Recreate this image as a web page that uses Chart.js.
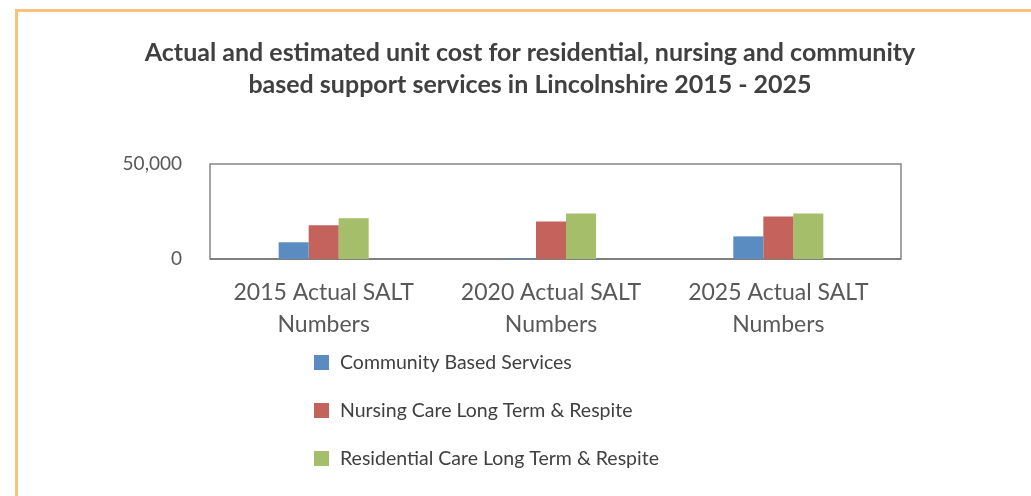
<!DOCTYPE html>
<html>
<head>
<meta charset="utf-8">
<script src="https://cdn.jsdelivr.net/npm/chart.js@4/dist/chart.umd.min.js"></script>
<style>
  html, body { margin: 0; padding: 0; background: #ffffff; overflow: hidden; }
  #frame { position: absolute; left: 15px; top: 9px; width: 1200px; height: 700px; border: 3px solid #F9C27B; box-sizing: border-box; }
  #wrap { position: absolute; left: 0; top: 0; width: 1031px; height: 496px; }
</style>
</head>
<body>
<div id="frame"></div>
<div id="wrap"><canvas id="c" width="1031" height="496"></canvas></div>
<script>
const titleLines = [
  'Actual and estimated unit cost for residential, nursing and community',
  'based support services in Lincolnshire 2015 - 2025'
];
const categories = [
  ['2015 Actual SALT', 'Numbers'],
  ['2020 Actual SALT', 'Numbers'],
  ['2025 Actual SALT', 'Numbers']
];
const seriesNames = [
  'Community Based Services',
  'Nursing Care Long Term & Respite',
  'Residential Care Long Term & Respite'
];
const communityBased = [8800, 400, 11900];
const nursingCare = [17700, 19800, 22400];
const residentialCare = [21400, 24000, 24000];
const yTicks = [0, 50000];
const seriesColors = ['#5A8BC1', '#C4635B', '#A5BE69'];

const FONT = 'Lato, "Open Sans", sans-serif';

const frameBox = {
  id: 'frameBox',
  beforeDatasetsDraw(chart) {
    const a = chart.chartArea, ctx = chart.ctx;
    const ext = 9;
    ctx.save();
    ctx.strokeStyle = '#868686';
    ctx.lineWidth = 1.5;
    ctx.strokeRect(a.left, a.top, a.right + ext - a.left, a.bottom - a.top);
    ctx.strokeStyle = '#7F7F7F';
    ctx.lineWidth = 2;
    ctx.beginPath();
    ctx.moveTo(a.left, a.bottom);
    ctx.lineTo(a.right + ext, a.bottom);
    ctx.stroke();
    ctx.restore();
  }
};

const stackedLegend = {
  id: 'stackedLegend',
  afterDraw(chart) {
    const ctx = chart.ctx;
    const rows = [363, 411, 459];
    ctx.save();
    ctx.font = '19.5px ' + FONT;
    ctx.textBaseline = 'middle';
    ctx.textAlign = 'left';
    chart.data.datasets.forEach((ds, i) => {
      ctx.fillStyle = ds.backgroundColor;
      ctx.fillRect(314, rows[i] - 8, 15, 15);
      ctx.fillStyle = '#404040';
      ctx.fillText(ds.label, 340, rows[i]);
    });
    ctx.restore();
  }
};

new Chart(document.getElementById('c'), {
  type: 'bar',
  data: {
    labels: categories,
    datasets: [
      { label: seriesNames[0], data: communityBased, backgroundColor: seriesColors[0] },
      { label: seriesNames[1], data: nursingCare, backgroundColor: seriesColors[1] },
      { label: seriesNames[2], data: residentialCare, backgroundColor: seriesColors[2] }
    ]
  },
  options: {
    responsive: false,
    animation: false,
    devicePixelRatio: 1,
    layout: { padding: { left: 100, right: 71, top: 0, bottom: 137 } },
    datasets: { bar: { categoryPercentage: 0.396, barPercentage: 1.0, borderWidth: 0 } },
    plugins: {
      legend: { display: false },
      tooltip: { enabled: false },
      title: {
        display: true,
        text: titleLines,
        color: '#404040',
        font: { family: FONT, size: 25, weight: 'bold', lineHeight: 1.28 },
        padding: { top: 37, bottom: 63 }
      }
    },
    scales: {
      x: {
        grid: { display: false, drawTicks: false },
        border: { display: false },
        ticks: { color: '#595959', font: { family: FONT, size: 23, lineHeight: 1.37 }, padding: 18, maxRotation: 0, autoSkip: false },
        afterFit(scale) { scale.height = 100; }
      },
      y: {
        min: 0, max: 50000,
        afterBuildTicks(scale) { scale.ticks = yTicks.map(v => ({ value: v })); },
        grid: { display: false, drawTicks: false },
        border: { display: false },
        ticks: {
          color: '#595959',
          font: { family: FONT, size: 19 },
          padding: 28,
          callback: v => v.toLocaleString('en-US')
        },
        afterFit(scale) { scale.width = 110; }
      },
      yRight: {
        type: 'linear',
        position: 'right',
        display: true,
        grid: { display: false, drawTicks: false },
        border: { display: false },
        ticks: { display: false },
        afterFit(scale) { scale.width = 68; }
      }
    }
  },
  plugins: [frameBox, stackedLegend]
});
</script>
</body>
</html>
